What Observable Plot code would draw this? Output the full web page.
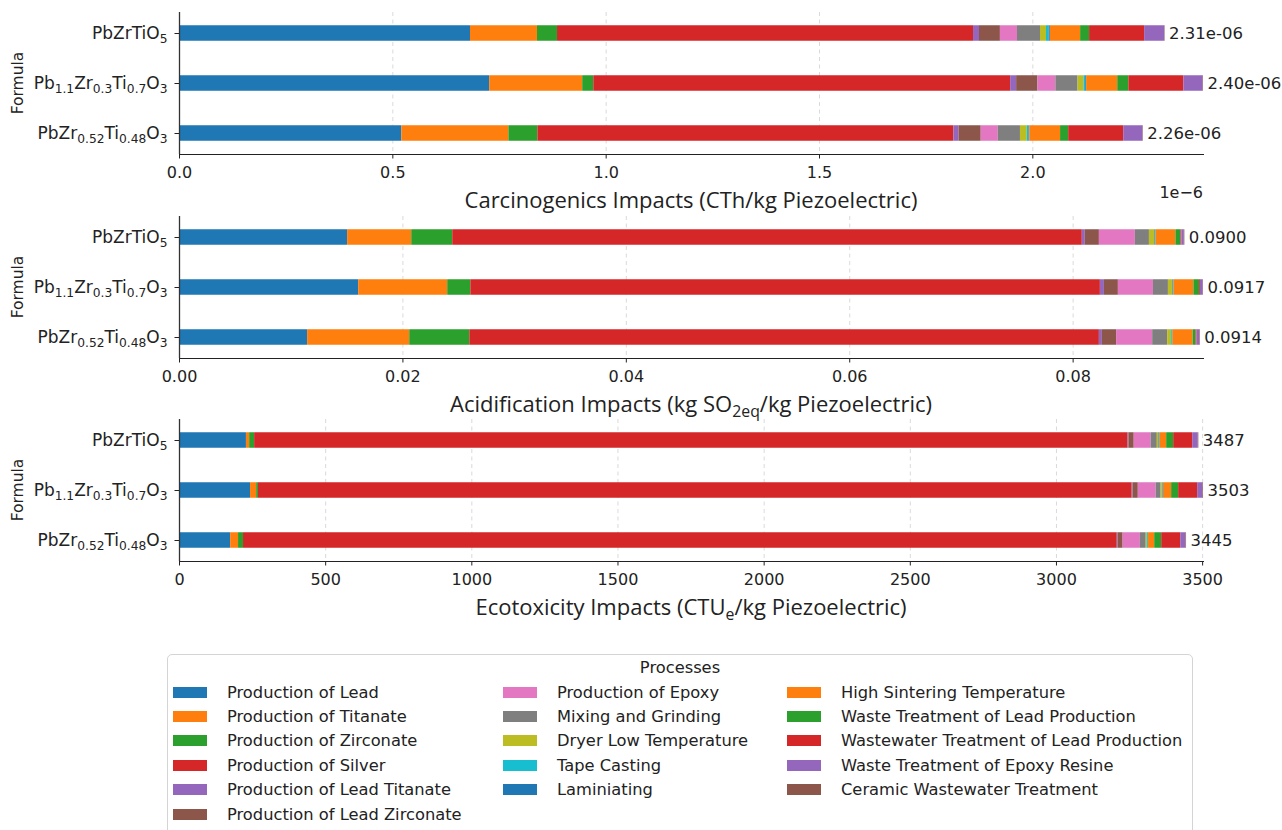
<!DOCTYPE html>
<html>
<head>
<meta charset="utf-8">
<script src="https://cdn.jsdelivr.net/npm/d3@7"></script>
<script src="https://cdn.jsdelivr.net/npm/@observablehq/plot@0.6"></script>
<style>
  body { margin: 0; background: #fff; }
  #fig { position: relative; width: 1282px; height: 830px; overflow: hidden; background: #fff; }
  .panel { position: absolute; left: 0; }
  #legend {
    position: absolute; left: 167px; top: 654px; width: 1026px; height: 200px;
    box-sizing: border-box; border: 1px solid #d4d4d4; border-radius: 5px; background: #fff;
    font-family: "DejaVu Sans", sans-serif; font-size: 16.3px; color: #222;
  }
  #legend .ltitle { position: absolute; left: 0; right: 0; top: 2px; text-align: center; line-height: 22px; }
  #legend .lgrid {
    position: absolute; left: 5px; top: 25px;
    display: grid;
    grid-template-rows: repeat(6, 24.4px);
    grid-template-columns: 330px 284px 400px;
  }
  #legend .item { display: flex; align-items: center; white-space: nowrap; }
  #legend .sw { width: 34px; height: 11px; margin-right: 20px; flex: none; }
</style>
</head>
<body>
<div id="fig"></div>
<script>
// Piezoelectric formulas, top row first
const formulas = ["PbZrTiO5", "Pb1.1Zr0.3Ti0.7O3", "PbZr0.52Ti0.48O3"];

// Process contributions, stacked left to right in this order
const processes = [
  "Production of Lead", "Production of Titanate", "Production of Zirconate",
  "Production of Silver", "Production of Lead Titanate", "Production of Lead Zirconate",
  "Production of Epoxy", "Mixing and Grinding", "Dryer Low Temperature",
  "Tape Casting", "Laminiating", "High Sintering Temperature",
  "Waste Treatment of Lead Production", "Wastewater Treatment of Lead Production",
  "Waste Treatment of Epoxy Resine", "Ceramic Wastewater Treatment"
];
const processColors = [
  "#1f77b4", "#ff7f0e", "#2ca02c", "#d62728", "#9467bd", "#8c564b",
  "#e377c2", "#7f7f7f", "#bcbd22", "#17becf", "#1f77b4", "#ff7f0e",
  "#2ca02c", "#d62728", "#9467bd", "#8c564b"
];
// Legend columns hold 6, 5 and 5 entries
const legendColumnSizes = [6, 5, 5];

// Carcinogenics (CTh/kg), one row per formula, one value per process
const carcinogenics = [
  [0.682e-6, 0.157e-6, 0.047e-6, 0.975e-6, 0.014e-6, 0.049e-6, 0.040e-6, 0.054e-6, 0.014e-6, 0.006e-6, 0.003e-6, 0.071e-6, 0.021e-6, 0.129e-6, 0.047e-6, 0.001e-6],
  [0.727e-6, 0.218e-6, 0.026e-6, 0.977e-6, 0.014e-6, 0.050e-6, 0.042e-6, 0.052e-6, 0.014e-6, 0.004e-6, 0.002e-6, 0.073e-6, 0.026e-6, 0.129e-6, 0.045e-6, 0.001e-6],
  [0.521e-6, 0.251e-6, 0.068e-6, 0.975e-6, 0.012e-6, 0.052e-6, 0.040e-6, 0.052e-6, 0.016e-6, 0.004e-6, 0.002e-6, 0.072e-6, 0.019e-6, 0.129e-6, 0.045e-6, 0.001e-6]
];

// Acidification (kg SO2eq/kg)
const acidification = [
  [0.01505, 0.00574, 0.00367, 0.05636, 0.00027, 0.00126, 0.00322, 0.00126, 0.00045, 0.00008, 0.00004, 0.00180, 0.00045, 0.00008, 0.00022, 0.00005],
  [0.01604, 0.00797, 0.00207, 0.05636, 0.00036, 0.00125, 0.00314, 0.00134, 0.00036, 0.00008, 0.00004, 0.00180, 0.00050, 0.00008, 0.00025, 0.00003],
  [0.01147, 0.00914, 0.00538, 0.05636, 0.00027, 0.00127, 0.00323, 0.00134, 0.00036, 0.00008, 0.00004, 0.00180, 0.00027, 0.00008, 0.00025, 0.00005]
];

// Ecotoxicity (CTUe/kg)
const ecotoxicity = [
  [229, 11, 17, 2988, 3, 18, 58, 21, 4, 3, 1, 24, 24, 65, 19, 2],
  [243, 21, 6, 2989, 3, 18, 61, 17, 4, 3, 1, 28, 24, 65, 18, 2],
  [175, 27, 17, 2989, 3, 17, 59, 20, 4, 3, 1, 21, 24, 65, 18, 2]
];

// Axis ticks
const carcinogenicsTicks = [0, 0.5e-6, 1.0e-6, 1.5e-6, 2.0e-6];
const acidificationTicks = [0, 0.02, 0.04, 0.06, 0.08];
const ecotoxicityTicks = [0, 500, 1000, 1500, 2000, 2500, 3000, 3500];

// Axis titles; _{...} marks a subscript
const carcinogenicsTitle = "Carcinogenics Impacts (CTh/kg Piezoelectric)";
const acidificationTitle = "Acidification Impacts (kg SO_{2eq}/kg Piezoelectric)";
const ecotoxicityTitle = "Ecotoxicity Impacts (CTU_{e}/kg Piezoelectric)";

const W = 1282, H = 215, MT = 12, MB = 61, ML = 179, MR = W - 1203;
const BAND_EXTRA = 4.75;  // bands reach slightly past the frame, as in the axes layout
const BAR_INSET = 17.25;
const ink = "#222";

// Write "a_{b}c" pieces into an SVG text element as tspans
function writeRich(textSel, str) {
  textSel.text(null);
  const parts = str.split(/(_\{[^}]*\})/).filter(s => s.length);
  let shifted = false;
  for (const part of parts) {
    const sub = part.startsWith("_{");
    const t = textSel.append("tspan").text(sub ? part.slice(2, -1) : part);
    if (sub) { t.attr("font-size", "0.72em").attr("dy", shifted ? null : "0.3em"); shifted = true; }
    else if (shifted) { t.attr("dy", "-0.216em"); shifted = false; }
  }
}

// Chemical formula: digits become subscripts
function formulaRich(f) {
  return f.replace(/([\d.]+)/g, "_{$1}");
}

function expLabel(v) {
  return v.toExponential(2).replace(/e([+-])(\d)$/, "e$10$2");
}

function panel({values, ticks, tickFormat, labelFormat, title, top, offsetText}) {
  const rows = [];
  formulas.forEach((f, i) => processes.forEach((p, j) => rows.push({formula: f, process: p, value: values[i][j]})));
  const totals = formulas.map((f, i) => ({formula: f, total: d3.sum(values[i])}));
  const xMax = d3.max(totals, d => d.total);

  const svg = Plot.plot({
    width: W, height: H,
    marginTop: MT, marginBottom: MB, marginLeft: ML, marginRight: MR,
    style: {background: "transparent", overflow: "visible", fontFamily: "DejaVu Sans, sans-serif", fontSize: "16px", color: ink},
    x: {domain: [0, xMax], ticks, tickFormat, tickSize: 4.5, tickPadding: 8, label: null, line: true},
    y: {domain: formulas, range: [MT - BAND_EXTRA, H - MB + BAND_EXTRA], padding: 0, tickSize: 4.5, tickPadding: 7.5, label: null},
    color: {domain: processes, range: processColors},
    marks: [
      Plot.ruleX(ticks.slice(1), {stroke: "#dadada", strokeWidth: 1, strokeDasharray: "4,3.5"}),
      Plot.barX(rows, {x: "value", y: "formula", fill: "process", insetTop: BAR_INSET, insetBottom: BAR_INSET}),
      Plot.text(totals, {x: "total", y: "formula", text: d => labelFormat(d.total), dx: 4, textAnchor: "start", fontSize: 16.5, fill: ink}),
      Plot.ruleX([0], {stroke: "#333", strokeWidth: 1.3})
    ]
  });

  const s = d3.select(svg);
  s.attr("class", "panel").style("top", top + "px");

  // subscripted formula tick labels
  s.selectAll("text").each(function() {
    const el = d3.select(this);
    if (el.selectAll("tspan").size() === 0 && formulas.includes(el.text())) {
      el.attr("font-size", 17);
      writeRich(el, formulaRich(el.text()));
    }
  });

  const frameBottom = H - MB;
  // x axis title
  const t = s.append("text")
    .attr("x", (ML + (W - MR)) / 2).attr("y", frameBottom + 54)
    .attr("text-anchor", "middle")
    .attr("font-family", "Open Sans, sans-serif").attr("font-size", 22).attr("fill", ink);
  writeRich(t, title);

  // y axis title
  s.append("text")
    .attr("transform", `translate(18,${(MT + frameBottom) / 2}) rotate(-90)`)
    .attr("text-anchor", "middle").attr("dy", "0.35em")
    .attr("font-family", "DejaVu Sans, sans-serif").attr("font-size", 15.5).attr("fill", ink)
    .text("Formula");

  if (offsetText) {
    s.append("text")
      .attr("x", W - MR).attr("y", frameBottom + 44)
      .attr("text-anchor", "end")
      .attr("font-size", 16).attr("fill", ink)
      .text(offsetText);
  }
  return svg;
}

const fig = document.getElementById("fig");

fig.append(panel({
  values: carcinogenics, ticks: carcinogenicsTicks,
  tickFormat: d => (d * 1e6).toFixed(1), labelFormat: expLabel,
  title: carcinogenicsTitle, top: 0, offsetText: "1e\u22126"
}));
fig.append(panel({
  values: acidification, ticks: acidificationTicks,
  tickFormat: d => d.toFixed(2), labelFormat: v => v.toFixed(4),
  title: acidificationTitle, top: 204
}));
fig.append(panel({
  values: ecotoxicity, ticks: ecotoxicityTicks,
  tickFormat: d => String(d), labelFormat: v => v.toFixed(0),
  title: ecotoxicityTitle, top: 407
}));

// Legend of processes, filled column by column
const legendSlots = [];
legendColumnSizes.forEach((n, c) => d3.range(n).forEach(r => legendSlots.push({col: c + 1, row: r + 1})));
const legend = d3.select(fig).append("div").attr("id", "legend");
legend.append("div").attr("class", "ltitle").text("Processes");
const grid = legend.append("div").attr("class", "lgrid");
const items = grid.selectAll(".item").data(processes).join("div")
  .attr("class", "item")
  .style("grid-column", (d, i) => legendSlots[i].col)
  .style("grid-row", (d, i) => legendSlots[i].row);
items.append("div").attr("class", "sw").style("background", (d, i) => processColors[i]);
items.append("span").text(d => d);
</script>
</body>
</html>
